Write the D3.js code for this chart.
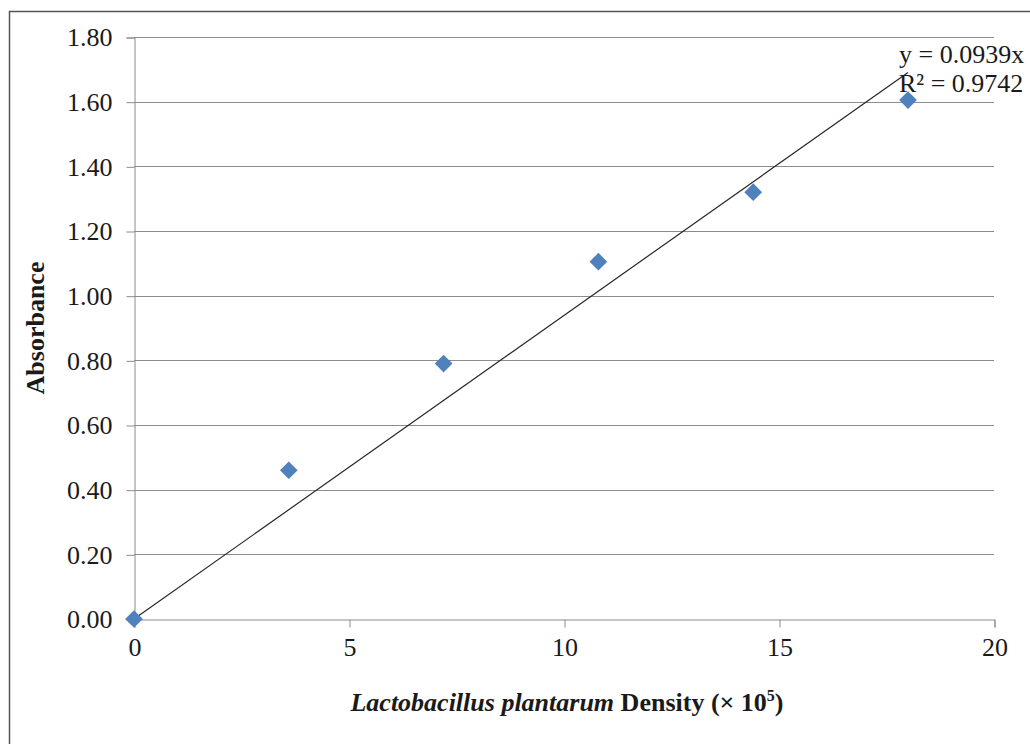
<!DOCTYPE html>
<html>
<head>
<meta charset="utf-8">
<script src="https://cdn.jsdelivr.net/npm/d3@7"></script>
<style>
  body { margin: 0; background: #fff; }
  text { font-family: "Liberation Serif", "Times New Roman", serif; }
</style>
</head>
<body>
<svg id="chart"></svg>
<script>
// data
const density = [0, 3.6, 7.2, 10.8, 14.4, 18.0];
const absorbance = [0, 0.46, 0.79, 1.105, 1.32, 1.605];
const slope = 0.0939;
const rSquared = 0.9742;
const xTicks = [0, 5, 10, 15, 20];
const yTicks = [0, 0.2, 0.4, 0.6, 0.8, 1.0, 1.2, 1.4, 1.6, 1.8];

const width = 1030;
const height = 744;

const svg = d3.select("#chart")
    .attr("width", width)
    .attr("height", height);

// outer frame
svg.append("rect")
    .attr("x", 9.5).attr("y", 11.5)
    .attr("width", 1040).attr("height", 760)
    .attr("fill", "none")
    .attr("stroke", "#555")
    .attr("stroke-width", 1.5);

const x = d3.scaleLinear().domain([0, 20]).range([134, 994]);
const y = d3.scaleLinear().domain([0, 1.8]).range([619, 37]);

// gridlines
svg.selectAll(".grid")
    .data(yTicks.filter(d => d > 0))
    .enter()
    .append("line")
    .attr("class", "grid")
    .attr("x1", x(0)).attr("x2", x(20))
    .attr("y1", d => Math.round(y(d)) + 0.5)
    .attr("y2", d => Math.round(y(d)) + 0.5)
    .attr("stroke", "#8c8c8c")
    .attr("stroke-width", 1);

// y axis
const yAxis = svg.append("g")
    .attr("transform", `translate(${x(0) + 0.5},0.5)`)
    .call(d3.axisLeft(y).tickValues(yTicks).tickFormat(d3.format(".2f")).tickSize(8).tickPadding(14));

// x axis
const xAxis = svg.append("g")
    .attr("transform", `translate(0.5,${y(0) + 0.5})`)
    .call(d3.axisBottom(x).tickValues(xTicks).tickFormat(d3.format("d")).tickSize(8).tickPadding(10));

[yAxis, xAxis].forEach(g => {
    g.select(".domain").attr("stroke", "#8c8c8c");
    g.selectAll(".tick line").attr("stroke", "#8c8c8c");
    g.selectAll(".tick text")
        .attr("fill", "#1a1a1a")
        .style("font-family", "'Liberation Serif', serif")
        .style("font-size", "26px");
});

// linear trendline through origin
const xMax = d3.max(density);
svg.append("line")
    .attr("x1", x(0)).attr("y1", y(0))
    .attr("x2", x(xMax)).attr("y2", y(slope * xMax))
    .attr("stroke", "#262626")
    .attr("stroke-width", 1.2);

// markers
svg.selectAll(".pt")
    .data(density.map((d, i) => [d, absorbance[i]]))
    .enter()
    .append("path")
    .attr("class", "pt")
    .attr("d", d3.symbol().type(d3.symbolDiamond2).size(200))
    .attr("transform", d => `translate(${x(d[0])},${y(d[1])})`)
    .attr("fill", "#4F81BD");

// equation
svg.append("text")
    .attr("x", 899).attr("y", 63)
    .attr("font-size", 26).attr("fill", "#1a1a1a")
    .text(`y = ${slope}x`);
svg.append("text")
    .attr("x", 899).attr("y", 92)
    .attr("font-size", 26).attr("fill", "#1a1a1a")
    .text(`R² = ${rSquared}`);

// axis titles
svg.append("text")
    .attr("transform", `translate(44,${(y(0) + y(1.8)) / 2}) rotate(-90)`)
    .attr("text-anchor", "middle")
    .attr("font-size", 26).attr("font-weight", "bold")
    .attr("fill", "#1a1a1a")
    .text("Absorbance");

const xt = svg.append("text")
    .attr("x", 567).attr("y", 711)
    .attr("text-anchor", "middle")
    .attr("font-size", 26).attr("font-weight", "bold")
    .attr("fill", "#1a1a1a");
xt.append("tspan").attr("font-style", "italic").text("Lactobacillus plantarum");
xt.append("tspan").text(" Density (× 10");
xt.append("tspan").attr("font-size", 16).attr("dy", -10).text("5");
xt.append("tspan").attr("dy", 10).text(")");
</script>
</body>
</html>
